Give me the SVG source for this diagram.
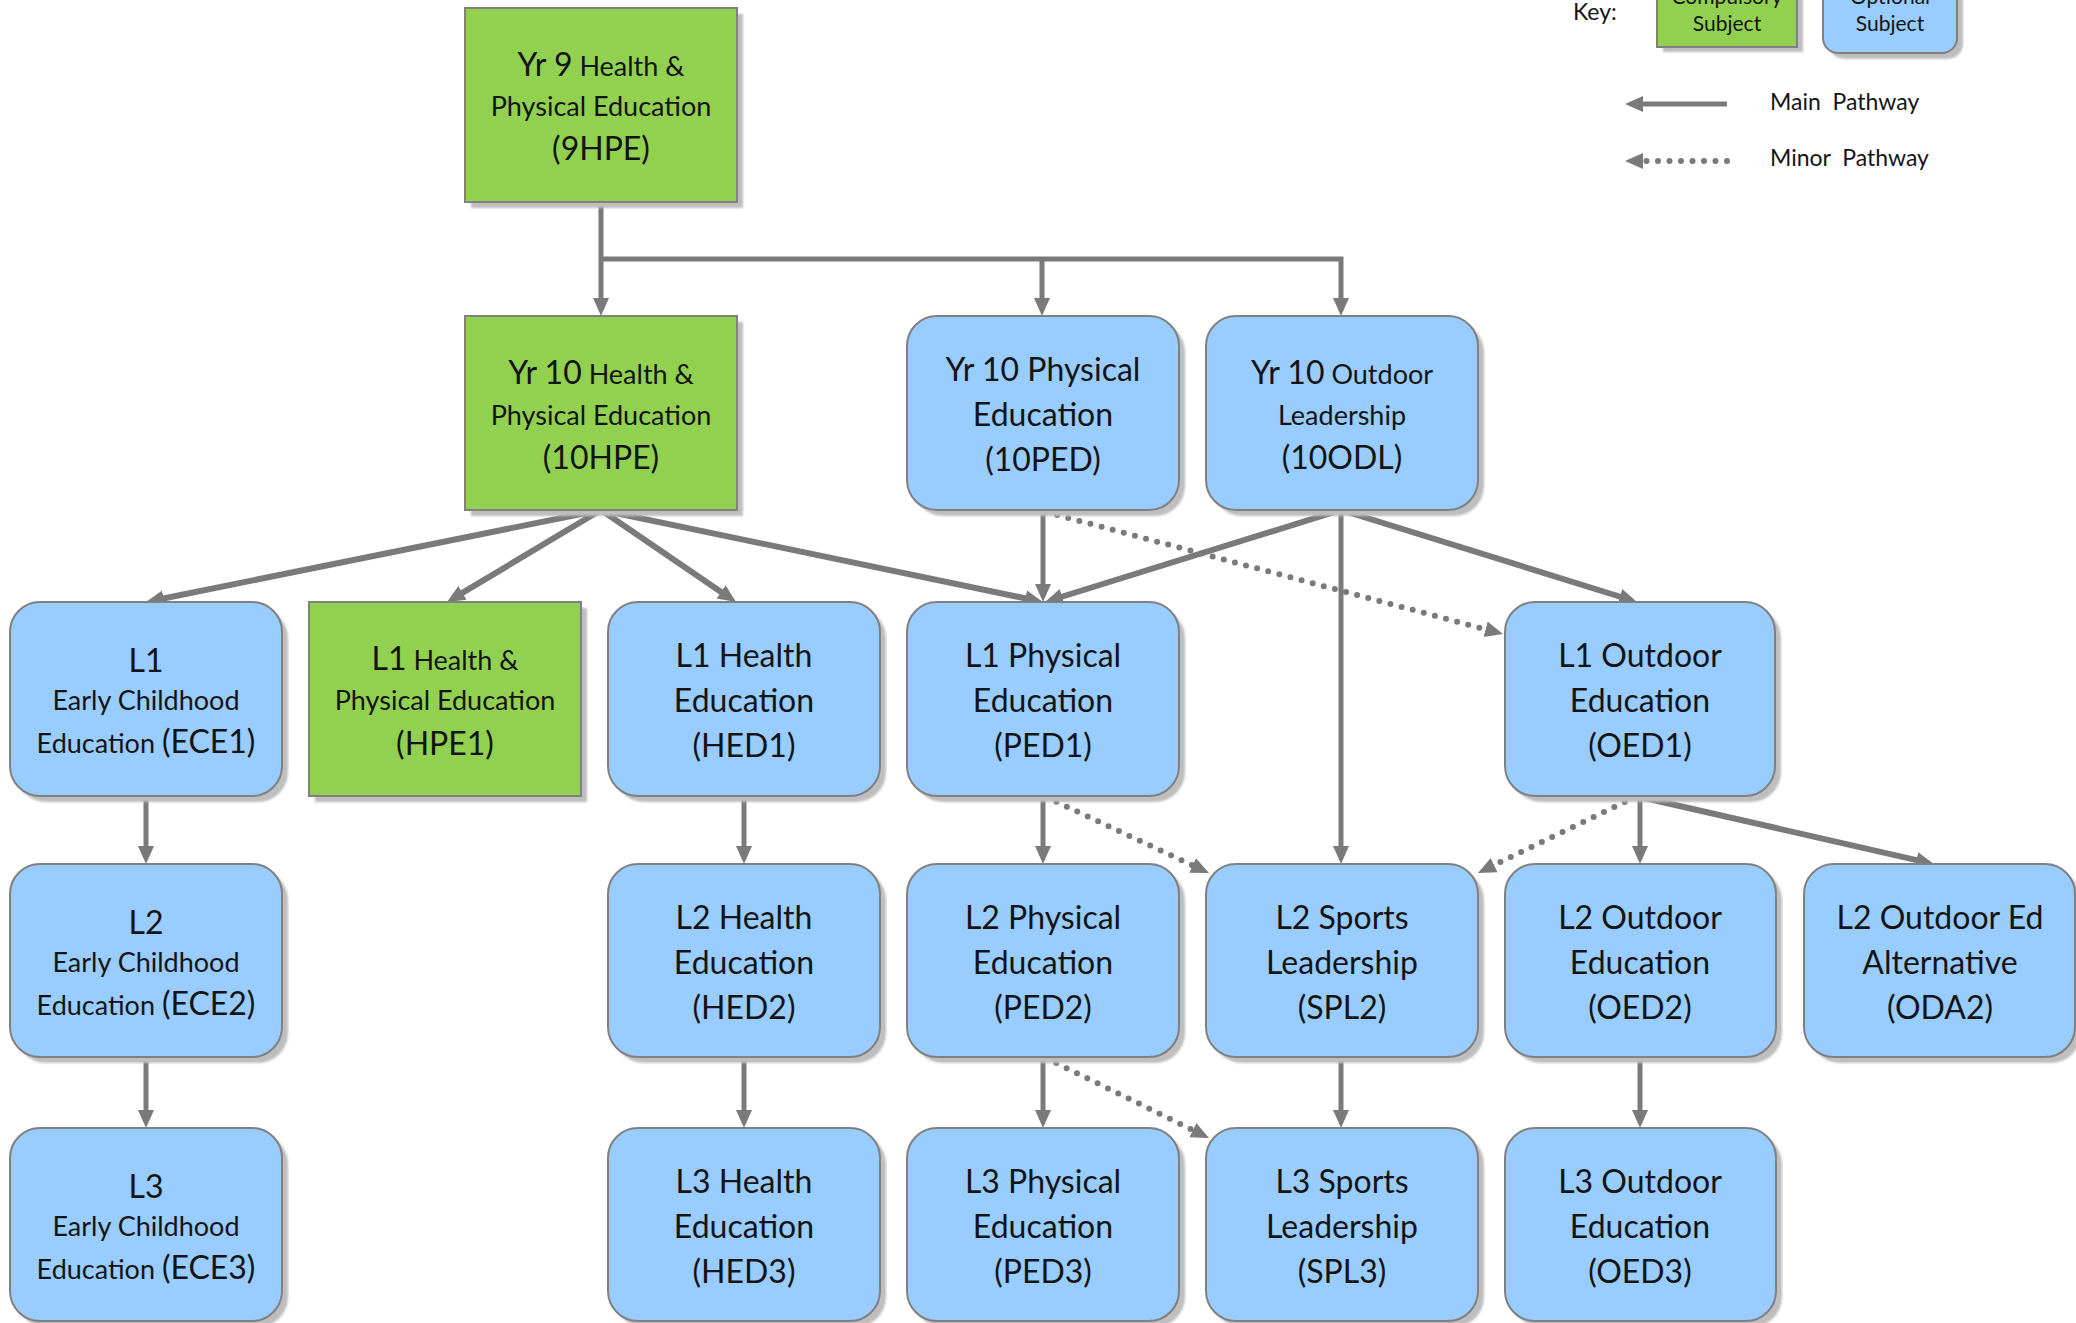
<svg xmlns="http://www.w3.org/2000/svg" width="2076" height="1323" viewBox="0 0 2076 1323">
<style>
.bg{fill:#FFFFFF}
.blue{fill:#99CCFF;stroke:#808080;stroke-width:2}
.green{fill:#92D050;stroke:#808080;stroke-width:2}
.sh{fill:#BEBEBE;filter:url(#blur)}
.t{font-family:Lato,'Open Sans','DejaVu Sans',sans-serif;fill:#141414;text-anchor:middle}
.L{font-size:32px}
.S{font-size:27px}
.K{font-size:21px}
.lg{font-family:Lato,'Open Sans','DejaVu Sans',sans-serif;fill:#141414;font-size:23px;white-space:pre}
.c{stroke:#7A7A7A;stroke-width:5;fill:none;marker-end:url(#ah)}
.c6{stroke:#7A7A7A;stroke-width:6;fill:none;marker-end:url(#ah)}
.d{stroke:#7A7A7A;stroke-width:6;fill:none;stroke-dasharray:0 11.5;stroke-linecap:round;marker-end:url(#ah)}
</style>
<defs>
<filter id="blur" x="-10%" y="-10%" width="120%" height="120%"><feGaussianBlur stdDeviation="1.2"/></filter>
<marker id="ah" markerUnits="userSpaceOnUse" markerWidth="18" markerHeight="18" viewBox="0 0 18 18" refX="8" refY="9" orient="auto"><path d="M0,1 L18,9 L0,17 z" fill="#7A7A7A"/></marker>
</defs>
<rect class="bg" x="0" y="0" width="2076" height="1323"/>

<g id="legend">
<text class="lg" x="1573" y="20">Key:</text>
<rect class="sh" x="1663" y="-24" width="140" height="76"/>
<rect class="green" x="1657" y="-30" width="140" height="77"/>
<text class="t K" x="1727" y="4">Compulsory</text>
<text class="t K" x="1727" y="31">Subject</text>
<rect class="sh" x="1829" y="-24" width="134" height="83" rx="15"/>
<rect class="blue" x="1823" y="-30" width="134" height="83" rx="15"/>
<text class="t K" x="1890" y="4">Optional</text>
<text class="t K" x="1890" y="31">Subject</text>
<path class="c" d="M1727,104 H1635"/>
<path class="d" d="M1727,161 H1635"/>
<text class="lg" x="1770" y="110">Main  Pathway</text>
<text class="lg" x="1770" y="166">Minor  Pathway</text>
</g>

<g id="connectors">
<path class="c" d="M601,202 V306"/>
<path class="c" d="M601,259 H1341 V306"/>
<path class="c" d="M1042,259 V306"/>
<path class="c" d="M1043,510 V592"/>
<path class="c6" d="M601,510 L155.8,600"/>
<path class="c6" d="M601,510 L455.6,596.9"/>
<path class="c6" d="M601,510 L727.7,596.4"/>
<path class="c6" d="M601,510 L1033.2,600"/>
<path class="c6" d="M1341,510 L1054.5,599"/>
<path class="c6" d="M1341,510 L1627.5,599"/>
<path class="c" d="M1341,510 V854"/>
<path class="d" d="M1046,512 L1493.3,631.4"/>
<path class="c" d="M146,796 V854"/>
<path class="c" d="M146,1057 V1118"/>
<path class="c" d="M744,796 V854"/>
<path class="c" d="M744,1057 V1118"/>
<path class="c" d="M1043,796 V854"/>
<path class="c" d="M1043,1057 V1118"/>
<path class="d" d="M1046,797 L1199.9,868.8"/>
<path class="d" d="M1635,797 L1487,868.6"/>
<path class="c" d="M1640,796 V854"/>
<path class="c6" d="M1640,797 L1924.2,861.8"/>
<path class="c" d="M1341,1057 V1118"/>
<path class="c" d="M1640,1057 V1118"/>
<path class="d" d="M1046,1058 L1200,1133.6"/>
</g>

<g id="n-9HPE">
<rect class="sh" x="471" y="14" width="272" height="194"/>
<rect class="green" x="465" y="8" width="272" height="194"/>
<text class="t" x="601" y="76"><tspan class="L">Yr 9</tspan><tspan class="S"> Health &amp;</tspan></text>
<text class="t S" x="601" y="116">Physical Education</text>
<text class="t L" x="601" y="160">(9HPE)</text>
</g>

<g id="n-10HPE">
<rect class="sh" x="471" y="322" width="272" height="194"/>
<rect class="green" x="465" y="316" width="272" height="194"/>
<text class="t" x="601" y="384"><tspan class="L">Yr 10</tspan><tspan class="S"> Health &amp;</tspan></text>
<text class="t S" x="601" y="425">Physical Education</text>
<text class="t L" x="601" y="469">(10HPE)</text>
</g>

<g id="n-10PED">
<rect class="sh" x="913" y="322" width="272" height="194" rx="30"/>
<rect class="blue" x="907" y="316" width="272" height="194" rx="30"/>
<text class="t L" x="1043" y="381">Yr 10 Physical</text>
<text class="t L" x="1043" y="426">Education</text>
<text class="t L" x="1043" y="471">(10PED)</text>
</g>

<g id="n-10ODL">
<rect class="sh" x="1212" y="322" width="272" height="194" rx="30"/>
<rect class="blue" x="1206" y="316" width="272" height="194" rx="30"/>
<text class="t" x="1342" y="384"><tspan class="L">Yr 10</tspan><tspan class="S"> Outdoor</tspan></text>
<text class="t S" x="1342" y="425">Leadership</text>
<text class="t L" x="1342" y="469">(10ODL)</text>
</g>

<g id="n-ECE1">
<rect class="sh" x="16" y="608" width="272" height="194" rx="30"/>
<rect class="blue" x="10" y="602" width="272" height="194" rx="30"/>
<text class="t L" x="146" y="672">L1</text>
<text class="t S" x="146" y="710">Early Childhood</text>
<text class="t" x="146" y="753"><tspan class="S">Education </tspan><tspan class="L">(ECE1)</tspan></text>
</g>

<g id="n-HPE1">
<rect class="sh" x="315" y="608" width="272" height="194"/>
<rect class="green" x="309" y="602" width="272" height="194"/>
<text class="t" x="445" y="670"><tspan class="L">L1</tspan><tspan class="S"> Health &amp;</tspan></text>
<text class="t S" x="445" y="710">Physical Education</text>
<text class="t L" x="445" y="755">(HPE1)</text>
</g>

<g id="n-HED1">
<rect class="sh" x="614" y="608" width="272" height="194" rx="30"/>
<rect class="blue" x="608" y="602" width="272" height="194" rx="30"/>
<text class="t L" x="744" y="667">L1 Health</text>
<text class="t L" x="744" y="712">Education</text>
<text class="t L" x="744" y="757">(HED1)</text>
</g>

<g id="n-PED1">
<rect class="sh" x="913" y="608" width="272" height="194" rx="30"/>
<rect class="blue" x="907" y="602" width="272" height="194" rx="30"/>
<text class="t L" x="1043" y="667">L1 Physical</text>
<text class="t L" x="1043" y="712">Education</text>
<text class="t L" x="1043" y="757">(PED1)</text>
</g>

<g id="n-OED1">
<rect class="sh" x="1511" y="608" width="270" height="194" rx="30"/>
<rect class="blue" x="1505" y="602" width="270" height="194" rx="30"/>
<text class="t L" x="1640" y="667">L1 Outdoor</text>
<text class="t L" x="1640" y="712">Education</text>
<text class="t L" x="1640" y="757">(OED1)</text>
</g>

<g id="n-ECE2">
<rect class="sh" x="16" y="870" width="272" height="193" rx="30"/>
<rect class="blue" x="10" y="864" width="272" height="193" rx="30"/>
<text class="t L" x="146" y="934">L2</text>
<text class="t S" x="146" y="972">Early Childhood</text>
<text class="t" x="146" y="1015"><tspan class="S">Education </tspan><tspan class="L">(ECE2)</tspan></text>
</g>

<g id="n-HED2">
<rect class="sh" x="614" y="870" width="272" height="193" rx="30"/>
<rect class="blue" x="608" y="864" width="272" height="193" rx="30"/>
<text class="t L" x="744" y="929">L2 Health</text>
<text class="t L" x="744" y="974">Education</text>
<text class="t L" x="744" y="1019">(HED2)</text>
</g>

<g id="n-PED2">
<rect class="sh" x="913" y="870" width="272" height="193" rx="30"/>
<rect class="blue" x="907" y="864" width="272" height="193" rx="30"/>
<text class="t L" x="1043" y="929">L2 Physical</text>
<text class="t L" x="1043" y="974">Education</text>
<text class="t L" x="1043" y="1019">(PED2)</text>
</g>

<g id="n-SPL2">
<rect class="sh" x="1212" y="870" width="272" height="193" rx="30"/>
<rect class="blue" x="1206" y="864" width="272" height="193" rx="30"/>
<text class="t L" x="1342" y="929">L2 Sports</text>
<text class="t L" x="1342" y="974">Leadership</text>
<text class="t L" x="1342" y="1019">(SPL2)</text>
</g>

<g id="n-OED2">
<rect class="sh" x="1511" y="870" width="271" height="193" rx="30"/>
<rect class="blue" x="1505" y="864" width="271" height="193" rx="30"/>
<text class="t L" x="1640" y="929">L2 Outdoor</text>
<text class="t L" x="1640" y="974">Education</text>
<text class="t L" x="1640" y="1019">(OED2)</text>
</g>

<g id="n-ODA2">
<rect class="sh" x="1810" y="870" width="271" height="193" rx="30"/>
<rect class="blue" x="1804" y="864" width="271" height="193" rx="30"/>
<text class="t L" x="1940" y="929">L2 Outdoor Ed</text>
<text class="t L" x="1940" y="974">Alternative</text>
<text class="t L" x="1940" y="1019">(ODA2)</text>
</g>

<g id="n-ECE3">
<rect class="sh" x="16" y="1134" width="272" height="193" rx="30"/>
<rect class="blue" x="10" y="1128" width="272" height="193" rx="30"/>
<text class="t L" x="146" y="1198">L3</text>
<text class="t S" x="146" y="1236">Early Childhood</text>
<text class="t" x="146" y="1279"><tspan class="S">Education </tspan><tspan class="L">(ECE3)</tspan></text>
</g>

<g id="n-HED3">
<rect class="sh" x="614" y="1134" width="272" height="193" rx="30"/>
<rect class="blue" x="608" y="1128" width="272" height="193" rx="30"/>
<text class="t L" x="744" y="1193">L3 Health</text>
<text class="t L" x="744" y="1238">Education</text>
<text class="t L" x="744" y="1283">(HED3)</text>
</g>

<g id="n-PED3">
<rect class="sh" x="913" y="1134" width="272" height="193" rx="30"/>
<rect class="blue" x="907" y="1128" width="272" height="193" rx="30"/>
<text class="t L" x="1043" y="1193">L3 Physical</text>
<text class="t L" x="1043" y="1238">Education</text>
<text class="t L" x="1043" y="1283">(PED3)</text>
</g>

<g id="n-SPL3">
<rect class="sh" x="1212" y="1134" width="272" height="193" rx="30"/>
<rect class="blue" x="1206" y="1128" width="272" height="193" rx="30"/>
<text class="t L" x="1342" y="1193">L3 Sports</text>
<text class="t L" x="1342" y="1238">Leadership</text>
<text class="t L" x="1342" y="1283">(SPL3)</text>
</g>

<g id="n-OED3">
<rect class="sh" x="1511" y="1134" width="271" height="193" rx="30"/>
<rect class="blue" x="1505" y="1128" width="271" height="193" rx="30"/>
<text class="t L" x="1640" y="1193">L3 Outdoor</text>
<text class="t L" x="1640" y="1238">Education</text>
<text class="t L" x="1640" y="1283">(OED3)</text>
</g>
</svg>
